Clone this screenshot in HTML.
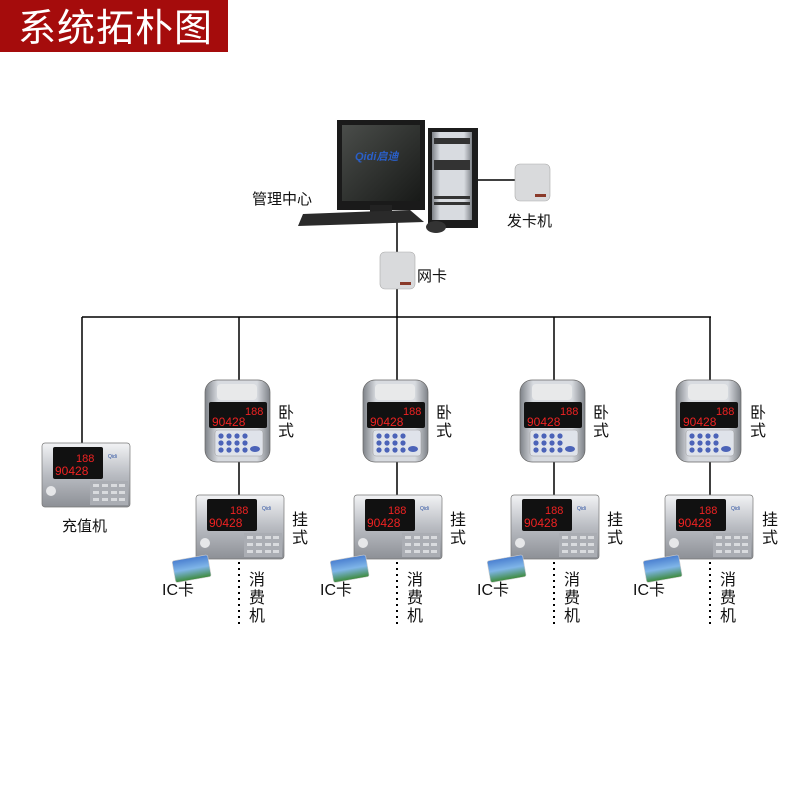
<!DOCTYPE html>
<html><head><meta charset="utf-8"><style>
html,body{margin:0;padding:0;background:#fff;width:800px;height:800px;overflow:hidden}
svg text{font-family:"Liberation Sans","Noto Sans CJK SC",sans-serif;fill:#111}
</style></head><body>
<svg width="800" height="800" viewBox="0 0 800 800" xmlns="http://www.w3.org/2000/svg">
<defs>
<linearGradient id="silver" x1="0" y1="0" x2="0" y2="1"><stop offset="0" stop-color="#f2f3f5"/><stop offset=".5" stop-color="#b9bcc2"/><stop offset="1" stop-color="#8d9096"/></linearGradient>
<linearGradient id="silverh" x1="0" y1="0" x2="1" y2="0"><stop offset="0" stop-color="#7e8288"/><stop offset=".2" stop-color="#d8dbe0"/><stop offset=".8" stop-color="#d8dbe0"/><stop offset="1" stop-color="#7e8288"/></linearGradient>
<linearGradient id="scr" x1="0" y1="0" x2="1" y2="1"><stop offset="0" stop-color="#4a4d4a"/><stop offset="1" stop-color="#181a18"/></linearGradient>
<linearGradient id="card" x1="0" y1="0" x2="0" y2="1"><stop offset="0" stop-color="#4a7fd0"/><stop offset=".5" stop-color="#7fb5e8"/><stop offset="1" stop-color="#3d8a3a"/></linearGradient>
<g id="desk">
<rect x="-34" y="0" width="65" height="82" rx="12" fill="url(#silverh)" stroke="#666" stroke-width=".7"/>
<rect x="-22" y="4" width="40" height="16" rx="4" fill="#e8e9ea"/>
<rect x="-30" y="22" width="58" height="26" rx="2" fill="#111"/>
<text x="6" y="35" font-size="11" style="fill:#e22">188</text>
<text x="-27" y="46" font-size="12" style="fill:#e22">90428</text>
<rect x="-24" y="50" width="48" height="26" rx="3" fill="#dfe3ea" stroke="#999" stroke-width=".5"/>
<g fill="#4b63b8"><circle cx="-18" cy="56" r="2.6"/><circle cx="-10" cy="56" r="2.6"/><circle cx="-2" cy="56" r="2.6"/><circle cx="6" cy="56" r="2.6"/><circle cx="-18" cy="63" r="2.6"/><circle cx="-10" cy="63" r="2.6"/><circle cx="-2" cy="63" r="2.6"/><circle cx="6" cy="63" r="2.6"/><circle cx="-18" cy="70" r="2.6"/><circle cx="-10" cy="70" r="2.6"/><circle cx="-2" cy="70" r="2.6"/><circle cx="6" cy="70" r="2.6"/><ellipse cx="16" cy="69" rx="5" ry="3"/></g>
</g>
<g id="wall">
<rect x="-44" y="0" width="88" height="64" rx="3" fill="url(#silver)" stroke="#777" stroke-width=".7"/>
<rect x="-33" y="4" width="50" height="32" rx="2" fill="#111"/>
<text x="-10" y="19" font-size="11" style="fill:#e22">188</text>
<text x="-31" y="32" font-size="12" style="fill:#e22">90428</text>
<text x="22" y="15" font-size="5" style="fill:#2a4fa0">Qidi</text>
<rect x="4" y="38" width="38" height="24" fill="#aaadb3"/>
<g fill="#d9dbde"><rect x="7" y="41" width="6" height="3"/><rect x="16" y="41" width="6" height="3"/><rect x="25" y="41" width="6" height="3"/><rect x="33" y="41" width="6" height="3"/><rect x="7" y="48" width="6" height="3"/><rect x="16" y="48" width="6" height="3"/><rect x="25" y="48" width="6" height="3"/><rect x="33" y="48" width="6" height="3"/><rect x="7" y="55" width="6" height="3"/><rect x="16" y="55" width="6" height="3"/><rect x="25" y="55" width="6" height="3"/><rect x="33" y="55" width="6" height="3"/></g>
<circle cx="-35" cy="48" r="5" fill="#e6e7e9"/>
</g>
<g id="icc"><rect x="0" y="0" width="36" height="22" rx="2" fill="url(#card)" stroke="#ccc" stroke-width=".6" transform="rotate(-10)"/></g>
<g id="reader"><rect x="0" y="0" width="35" height="37" rx="5" fill="#d9dadc" stroke="#aaa" stroke-width=".6"/><rect x="20" y="30" width="11" height="3" fill="#8a3a2a"/></g>
</defs>

<rect x="0" y="0" width="228" height="52" fill="#a50c0c"/>
<text x="18" y="41" font-size="38" style="fill:#fff" letter-spacing="1">系统拓朴图</text>

<g stroke="#000" stroke-width="1.5" fill="none">
<line x1="82" y1="317" x2="711" y2="317"/>
<line x1="82" y1="317" x2="82" y2="443"/>
<line x1="397" y1="215" x2="397" y2="317"/>
<line x1="478" y1="180" x2="518" y2="180"/>
<line x1="239" y1="317" x2="239" y2="495"/>
<line x1="397" y1="317" x2="397" y2="495"/>
<line x1="554" y1="317" x2="554" y2="495"/>
<line x1="710" y1="317" x2="710" y2="495"/>
</g>
<g stroke="#000" stroke-width="2" stroke-dasharray="2,4">
<line x1="239" y1="562" x2="239" y2="626"/><line x1="397" y1="562" x2="397" y2="626"/>
<line x1="554" y1="562" x2="554" y2="626"/><line x1="710" y1="562" x2="710" y2="626"/>
</g>

<!-- computer -->
<rect x="337" y="120" width="88" height="90" fill="#1a1a1a"/>
<rect x="342" y="125" width="78" height="76" fill="url(#scr)"/>
<text x="355" y="160" font-size="11" font-weight="bold" font-style="italic" style="fill:#2a5fc8">Qidi启迪</text>
<rect x="370" y="205" width="22" height="8" fill="#222"/>
<polygon points="303,214 410,210 424,222 298,226" fill="#2a2a2a"/>
<rect x="428" y="128" width="50" height="100" fill="#1c1c1c"/>
<rect x="432" y="132" width="40" height="88" fill="url(#silverh)"/>
<rect x="434" y="138" width="36" height="6" fill="#333"/>
<rect x="434" y="160" width="36" height="10" fill="#333"/>
<rect x="434" y="196" width="36" height="3" fill="#333"/><rect x="434" y="202" width="36" height="3" fill="#333"/>
<ellipse cx="436" cy="227" rx="10" ry="6" fill="#333"/>
<use href="#reader" x="515" y="164"/>
<use href="#reader" x="380" y="252"/>
<text x="252" y="204" font-size="15">管理中心</text>
<text x="507" y="226" font-size="15">发卡机</text>
<text x="417" y="281" font-size="15">网卡</text>

<g transform="translate(86,443)"><use href="#wall"/></g>
<text x="62" y="531" font-size="15">充值机</text>

<g transform="translate(239,380)"><use href="#desk"/></g>
<g transform="translate(397,380)"><use href="#desk"/></g>
<g transform="translate(554,380)"><use href="#desk"/></g>
<g transform="translate(710,380)"><use href="#desk"/></g>
<g transform="translate(240,495)"><use href="#wall"/></g>
<g transform="translate(398,495)"><use href="#wall"/></g>
<g transform="translate(555,495)"><use href="#wall"/></g>
<g transform="translate(709,495)"><use href="#wall"/></g>
<use href="#icc" x="172" y="561"/><use href="#icc" x="330" y="561"/><use href="#icc" x="487" y="561"/><use href="#icc" x="643" y="561"/>

<g font-size="16">
<text x="278" y="418">卧</text><text x="278" y="436">式</text>
<text x="436" y="418">卧</text><text x="436" y="436">式</text>
<text x="593" y="418">卧</text><text x="593" y="436">式</text>
<text x="750" y="418">卧</text><text x="750" y="436">式</text>
<text x="292" y="525">挂</text><text x="292" y="543">式</text>
<text x="450" y="525">挂</text><text x="450" y="543">式</text>
<text x="607" y="525">挂</text><text x="607" y="543">式</text>
<text x="762" y="525">挂</text><text x="762" y="543">式</text>
<text x="162" y="595">IC卡</text><text x="320" y="595">IC卡</text><text x="477" y="595">IC卡</text><text x="633" y="595">IC卡</text>
<text x="249" y="585">消</text><text x="249" y="603">费</text><text x="249" y="621">机</text>
<text x="407" y="585">消</text><text x="407" y="603">费</text><text x="407" y="621">机</text>
<text x="564" y="585">消</text><text x="564" y="603">费</text><text x="564" y="621">机</text>
<text x="720" y="585">消</text><text x="720" y="603">费</text><text x="720" y="621">机</text>
</g>
</svg>
</body></html>
